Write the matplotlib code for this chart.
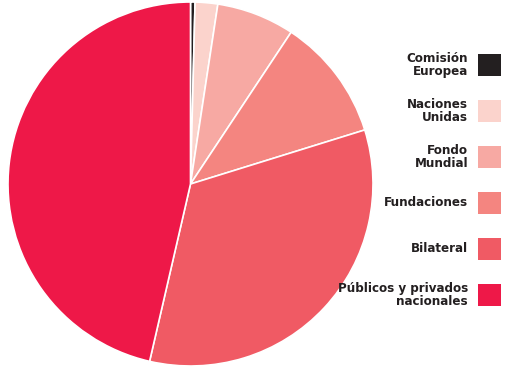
import matplotlib
matplotlib.use("Agg")
import matplotlib.pyplot as plt
from matplotlib.patches import Rectangle

labels = ["Comisión\nEuropea", "Naciones\nUnidas", "Fondo\nMundial",
          "Fundaciones", "Bilateral", "Públicos y privados\nnacionales"]
values = [0.4, 2.0, 6.9, 10.9, 33.4, 46.4]
colors = ["#231f20", "#fbd3cc", "#f7a9a3", "#f48580", "#f05a64", "#ee1848"]

plt.rcParams['font.family'] = ['DejaVu Sans']

W, H = 507, 368
fig = plt.figure(figsize=(W / 100, H / 100), dpi=100)
ax = fig.add_axes([8 / W, 2 / H, 365 / W, 364 / H])
ax.pie(values, colors=colors, startangle=90, counterclock=False,
       wedgeprops=dict(edgecolor="white", linewidth=1.2))
ax.set_xlim(-1.0, 1.0)
ax.set_ylim(-1.0, 1.0)
ax.set_aspect("auto")
ax.axis("off")

# legend on the right, text to the left of each swatch
y0, step, sq = 65, 46, 22.5
for i, (lab, col) in enumerate(zip(labels, colors)):
    yc = y0 + i * step
    fig.add_artist(Rectangle((478 / W, (H - yc - sq / 2) / H), sq / W, sq / H,
                             transform=fig.transFigure, facecolor=col,
                             edgecolor="none"))
    fig.text(468 / W, (H - yc) / H, lab, ha="right", va="center",
             fontsize=9.5, fontweight="bold", fontstretch="condensed",
             color="#231f20", multialignment="right", linespacing=1.0)

fig.savefig("out.png", dpi=100)
